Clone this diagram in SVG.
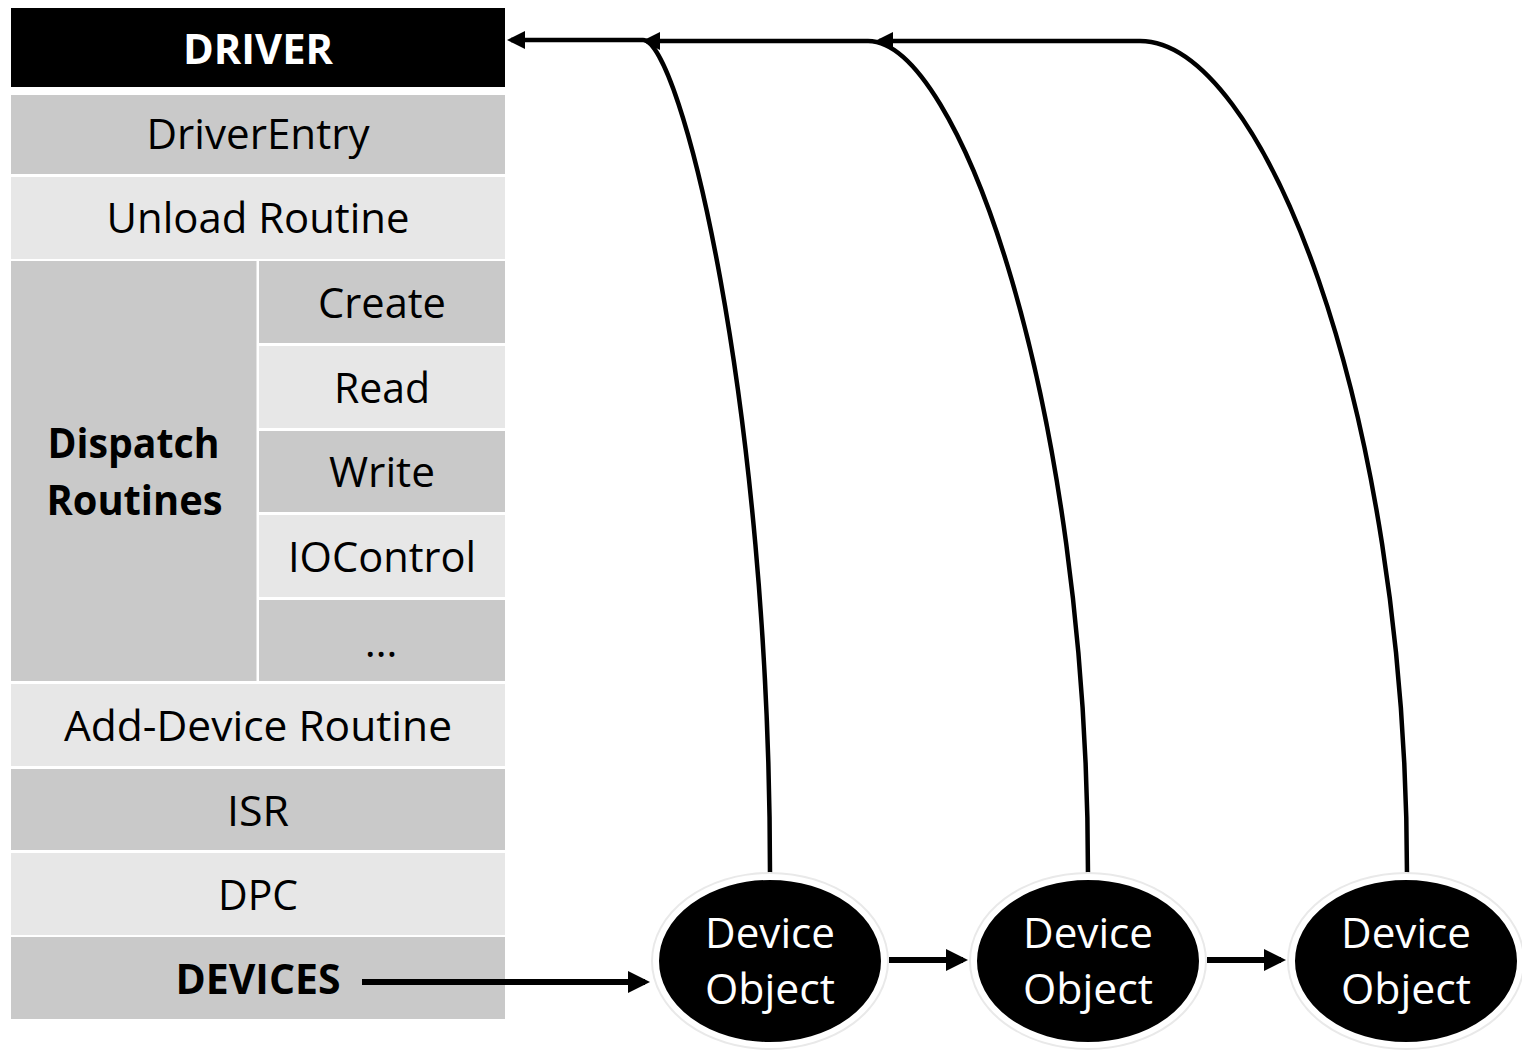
<svg xmlns="http://www.w3.org/2000/svg" width="1522" height="1050" viewBox="0 0 1522 1050">
<style>
.t{font-family:"Open Sans","Liberation Sans",sans-serif;font-size:42px;fill:#000;text-anchor:middle}
.b{font-weight:bold}
.w{fill:#fff}
.dk{fill:#c9c9c9}
.lt{fill:#e7e7e7}
.conn{fill:none;stroke:#000;stroke-width:4.5}
.thick{fill:none;stroke:#000;stroke-width:6}
.glow{fill:#e9e9e9}
.dev{fill:#000;stroke:#fff;stroke-width:6}
</style>
<defs>
<marker id="ah" markerUnits="userSpaceOnUse" markerWidth="18" markerHeight="18" refX="14" refY="9" orient="auto" viewBox="0 0 18 18">
<path d="M0,0 L18,9 L0,18 z" fill="#000"/>
</marker>
<marker id="ah2" markerUnits="userSpaceOnUse" markerWidth="22" markerHeight="22" refX="17" refY="11" orient="auto" viewBox="0 0 22 22">
<path d="M0,0 L22,11 L0,22 z" fill="#000"/>
</marker>
</defs>
<rect width="1522" height="1050" fill="#fff"/>

<g id="driver">
<rect x="11" y="8" width="494" height="79" fill="#000"/>
<text class="t b w" x="258" y="64" textLength="150" lengthAdjust="spacingAndGlyphs">DRIVER</text>
</g>
<g id="driverentry">
<rect class="dk" x="11" y="95" width="494" height="79"/>
<text class="t" x="258" y="149" textLength="223" lengthAdjust="spacingAndGlyphs">DriverEntry</text>
</g>
<g id="unload">
<rect class="lt" x="11" y="177" width="494" height="82"/>
<text class="t" x="258" y="233" textLength="303" lengthAdjust="spacingAndGlyphs">Unload Routine</text>
</g>
<g id="dispatch">
<rect class="dk" x="11" y="261" width="245.5" height="420"/>
<text class="t b" x="133.5" y="458" textLength="172" lengthAdjust="spacingAndGlyphs">Dispatch</text>
<text class="t b" x="134.5" y="515" textLength="176" lengthAdjust="spacingAndGlyphs">Routines</text>
</g>
<g id="create">
<rect class="dk" x="259" y="261" width="246" height="82"/>
<text class="t" x="382" y="318" textLength="128" lengthAdjust="spacingAndGlyphs">Create</text>
</g>
<g id="read">
<rect class="lt" x="259" y="346" width="246" height="82"/>
<text class="t" x="382" y="403" textLength="96" lengthAdjust="spacingAndGlyphs">Read</text>
</g>
<g id="write">
<rect class="dk" x="259" y="431" width="246" height="81"/>
<text class="t" x="382" y="487" textLength="106" lengthAdjust="spacingAndGlyphs">Write</text>
</g>
<g id="iocontrol">
<rect class="lt" x="259" y="515" width="246" height="82"/>
<text class="t" x="382" y="572" textLength="188" lengthAdjust="spacingAndGlyphs">IOControl</text>
</g>
<g id="more">
<rect class="dk" x="259" y="600" width="246" height="81"/>
<text class="t" x="381" y="657">…</text>
</g>
<g id="adddevice">
<rect class="lt" x="11" y="684" width="494" height="82"/>
<text class="t" x="258" y="741" textLength="388" lengthAdjust="spacingAndGlyphs">Add-Device Routine</text>
</g>
<g id="isr">
<rect class="dk" x="11" y="769" width="494" height="81"/>
<text class="t" x="258" y="826" textLength="62" lengthAdjust="spacingAndGlyphs">ISR</text>
</g>
<g id="dpc">
<rect class="lt" x="11" y="853" width="494" height="82"/>
<text class="t" x="258" y="910" textLength="80" lengthAdjust="spacingAndGlyphs">DPC</text>
</g>
<g id="devices">
<rect class="dk" x="11" y="937" width="494" height="82"/>
<text class="t b" x="258" y="994" textLength="165" lengthAdjust="spacingAndGlyphs">DEVICES</text>
</g>

<g id="connectors">
<path class="conn" d="M770,875 C770,400 680,40 643,40 L511,40" marker-end="url(#ah)"/>
<path class="conn" d="M1088,875 C1088,400 958,41 868,41 L646,41" marker-end="url(#ah)"/>
<path class="conn" d="M1407,875 C1407,400 1260,41 1140,41 L879,41" marker-end="url(#ah)"/>
<path class="thick" d="M362,982 L645,982" marker-end="url(#ah2)"/>
<path class="thick" d="M889,960 L963,960" marker-end="url(#ah2)"/>
<path class="thick" d="M1207,960 L1281,960" marker-end="url(#ah2)"/>
</g>

<g id="device1">
<ellipse class="glow" cx="770" cy="961" rx="119" ry="89"/>
<ellipse class="dev" cx="770" cy="961" rx="114" ry="84"/>
<text class="t w" x="770" y="948" textLength="130" lengthAdjust="spacingAndGlyphs">Device</text>
<text class="t w" x="770" y="1004" textLength="130" lengthAdjust="spacingAndGlyphs">Object</text>
</g>
<g id="device2">
<ellipse class="glow" cx="1088" cy="961" rx="119" ry="89"/>
<ellipse class="dev" cx="1088" cy="961" rx="114" ry="84"/>
<text class="t w" x="1088" y="948" textLength="130" lengthAdjust="spacingAndGlyphs">Device</text>
<text class="t w" x="1088" y="1004" textLength="130" lengthAdjust="spacingAndGlyphs">Object</text>
</g>
<g id="device3">
<ellipse class="glow" cx="1406" cy="961" rx="119" ry="89"/>
<ellipse class="dev" cx="1406" cy="961" rx="114" ry="84"/>
<text class="t w" x="1406" y="948" textLength="130" lengthAdjust="spacingAndGlyphs">Device</text>
<text class="t w" x="1406" y="1004" textLength="130" lengthAdjust="spacingAndGlyphs">Object</text>
</g>
</svg>
